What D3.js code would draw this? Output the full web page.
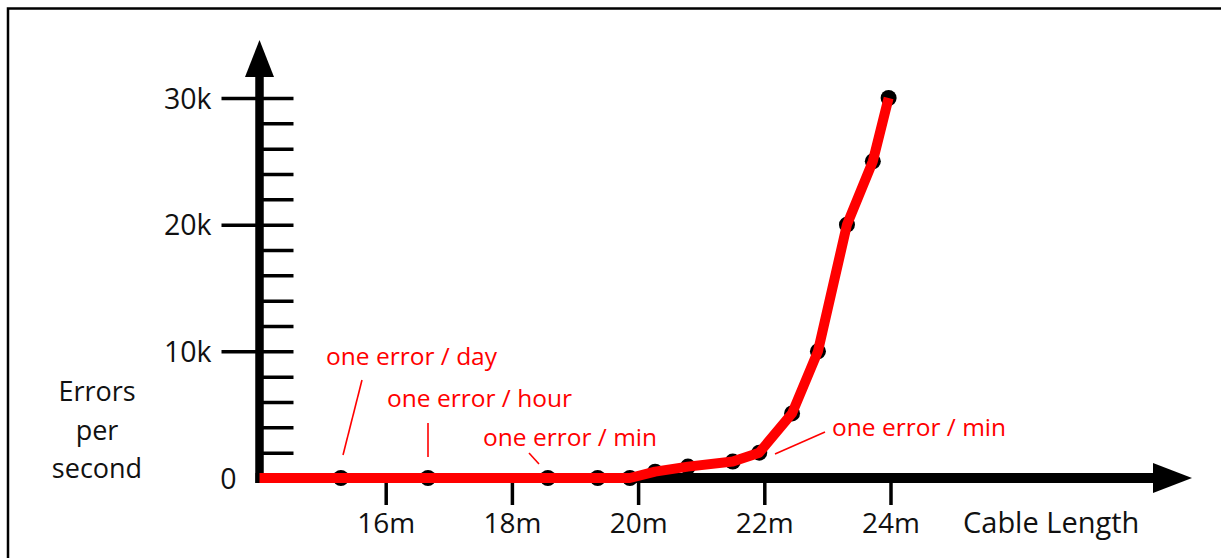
<!DOCTYPE html>
<html>
<head>
<meta charset="utf-8">
<script src="https://cdn.jsdelivr.net/npm/d3@7"></script>
<style>
  body { margin: 0; background: #fff; }
  svg { display: block; }
  text { font-family: "Open Sans", "DejaVu Sans", sans-serif; }
</style>
</head>
<body>
<div id="chart"></div>
<script>
'use strict';

// cable length (m) and errors per second
var cableLength = [15.29, 16.67, 18.57, 19.36, 19.87, 20.27, 20.79, 21.50, 21.92, 22.44, 22.85, 23.31, 23.72, 23.97];
var errorsPerSec = [0, 0, 0, 0, 0, 500, 900, 1300, 2000, 5100, 10000, 20000, 25000, 30000];

var xTicks = [16, 18, 20, 22, 24];
var yMajor = [0, 10000, 20000, 30000];
var yMajorLabels = ['0', '10k', '20k', '30k'];
var yMinor = [2000, 4000, 6000, 8000, 10000, 12000, 14000, 16000, 18000, 20000,
              22000, 24000, 26000, 28000, 30000];

var noteText = ['one error / day', 'one error / hour', 'one error / min', 'one error / min'];

var chart = {};
chart.w = 1221;
chart.h = 558;
chart.red = '#ff0000';
chart.ink = '#111';

var svg = d3.select('#chart').append('svg')
    .attr('width', chart.w)
    .attr('height', chart.h);

// frame (top and left edge only)
svg.append('path')
    .attr('d', 'M8,558V8.5H1221')
    .attr('fill', 'none')
    .attr('stroke', '#000')
    .attr('stroke-width', 2.5);

var x = d3.scaleLinear().domain([14, 24]).range([259.5, 890.5]);
var y = d3.scaleLinear().domain([0, 30000]).range([478, 98]);
var x0 = x(14), y0 = y(0);

// minor ticks on the right of the y axis
var minorAxis = d3.axisRight(y).tickValues(yMinor).tickSize(34).tickFormat('');
var gMinor = svg.append('g')
    .attr('transform', 'translate(' + x0 + ',0)')
    .call(minorAxis);
gMinor.select('.domain').remove();
gMinor.selectAll('.tick line').attr('stroke', '#000').attr('stroke-width', 3.5);

// major ticks with labels on the left
var majorAxis = d3.axisLeft(y).tickValues(yMajor).tickSize(38).tickPadding(10)
    .tickFormat(function(d, i){ return yMajorLabels[i]; });
var gMajor = svg.append('g')
    .attr('transform', 'translate(' + x0 + ',0)')
    .call(majorAxis);
gMajor.select('.domain').remove();
gMajor.selectAll('.tick line').attr('stroke', '#000').attr('stroke-width', 3.5);
gMajor.selectAll('.tick').filter(function(d){ return d === 0; }).select('line').remove();
gMajor.selectAll('.tick').filter(function(d){ return d === 0; }).select('text').attr('x', -23);
gMajor.selectAll('text')
    .attr('font-size', '28.5px')
    .attr('fill', chart.ink)
    .attr('dy', '0.36em');

// x axis ticks
var xAxis = d3.axisBottom(x).tickValues(xTicks).tickSize(27).tickPadding(8)
    .tickFormat(function(d){ return d + 'm'; });
var gx = svg.append('g')
    .attr('transform', 'translate(0,' + y0 + ')')
    .call(xAxis);
gx.select('.domain').remove();
gx.selectAll('.tick line').attr('stroke', '#000').attr('stroke-width', 3.5);
gx.selectAll('text')
    .attr('font-size', '28px')
    .attr('fill', chart.ink);

// axis lines with arrow heads
svg.append('line')
    .attr('x1', x0).attr('x2', x0)
    .attr('y1', y0 + 5).attr('y2', 70)
    .attr('stroke', '#000').attr('stroke-width', 8.5);
svg.append('path')
    .attr('d', 'M' + x0 + ',40L' + (x0 + 14.5) + ',77L' + (x0 - 14.5) + ',77Z')
    .attr('fill', '#000');
svg.append('line')
    .attr('x1', x0 - 4).attr('x2', 1160)
    .attr('y1', y0).attr('y2', y0)
    .attr('stroke', '#000').attr('stroke-width', 10);
svg.append('path')
    .attr('d', 'M1192,' + y0 + 'L1153,' + (y0 - 15) + 'L1153,' + (y0 + 15) + 'Z')
    .attr('fill', '#000');

// axis titles
var yTitle = svg.append('text')
    .attr('text-anchor', 'middle')
    .attr('font-size', '27px')
    .attr('fill', chart.ink);
['Errors', 'per', 'second'].forEach(function(s, i){
    yTitle.append('tspan').attr('x', 97).attr('y', 401 + i * 38.5).text(s);
});
svg.append('text')
    .attr('x', 963).attr('y', 533)
    .attr('font-size', '29px')
    .attr('fill', chart.ink)
    .text('Cable Length');

// data
var points = cableLength.map(function(d, i){ return {len: d, err: errorsPerSec[i]}; });

svg.append('g').selectAll('circle')
    .data(points)
    .enter()
    .append('circle')
    .attr('cx', function(d){ return x(d.len); })
    .attr('cy', function(d){ return y(d.err); })
    .attr('r', 8)
    .attr('fill', '#000');

var lineData = [{len: x.domain()[0], err: 0}].concat(points);
var line = d3.line()
    .x(function(d){ return x(d.len); })
    .y(function(d){ return y(d.err); });
svg.append('path')
    .datum(lineData)
    .attr('d', line)
    .attr('fill', 'none')
    .attr('stroke', chart.red)
    .attr('stroke-width', 10)
    .attr('stroke-linejoin', 'round');

// annotations: label position and pointer segment
var noteLayout = [
    {tx: 326, ty: 365, p: [343, 455, 362, 380]},
    {tx: 387, ty: 407, p: [428, 457, 428, 423]},
    {tx: 483, ty: 446, p: [539, 464, 529, 453]},
    {tx: 832, ty: 436, p: [775, 454, 825, 432]}
];
var notes = svg.append('g');
noteLayout.forEach(function(n, i){
    notes.append('text')
        .attr('x', n.tx).attr('y', n.ty)
        .attr('font-size', '24.5px')
        .attr('fill', chart.red)
        .text(noteText[i]);
    notes.append('line')
        .attr('x1', n.p[0]).attr('y1', n.p[1])
        .attr('x2', n.p[2]).attr('y2', n.p[3])
        .attr('stroke', chart.red)
        .attr('stroke-width', 1.6);
});
</script>
</body>
</html>
